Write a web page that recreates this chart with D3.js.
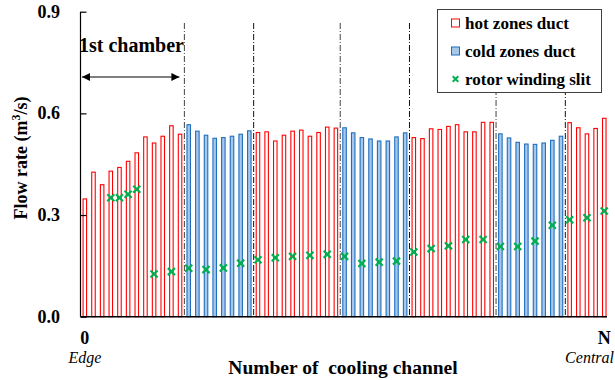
<!DOCTYPE html>
<html>
<head>
<meta charset="utf-8">
<script src="https://cdn.jsdelivr.net/npm/d3@7"></script>
<style>
  html, body { margin: 0; padding: 0; background: #fff; }
  svg { display: block; font-family: "Liberation Serif", "Times New Roman", serif; }
</style>
</head>
<body>
<svg id="chart" width="615" height="380"></svg>
<script>
// Flow rate per cooling duct, grouped by zone (edge -> centre)
const hotZone1  = [0.349, 0.428, 0.391, 0.431, 0.442, 0.460, 0.485, 0.532, 0.514, 0.534, 0.565, 0.540];
const coldZone1 = [0.568, 0.549, 0.537, 0.528, 0.530, 0.534, 0.540, 0.550];
const hotZone2  = [0.545, 0.547, 0.520, 0.537, 0.549, 0.552, 0.534, 0.545, 0.561, 0.558];
const coldZone2 = [0.559, 0.544, 0.530, 0.526, 0.520, 0.520, 0.532, 0.544];
const hotZone3  = [0.530, 0.527, 0.556, 0.554, 0.563, 0.568, 0.547, 0.547, 0.575, 0.575];
const coldZone3 = [0.541, 0.529, 0.516, 0.511, 0.510, 0.514, 0.522, 0.534];
const hotZone4  = [0.574, 0.559, 0.541, 0.557, 0.587];

// Rotor winding slit flow, at the channels where it was sampled
const slitChannels = [3, 4, 5, 6, 8, 10, 12, 14, 16, 18, 20, 22, 24, 26, 28, 30, 32, 34, 36, 38,
                      40, 42, 44, 46, 48, 50, 52, 54, 56, 58, 60];
const slitFlow = [0.351, 0.351, 0.361, 0.376, 0.126, 0.133, 0.143, 0.139, 0.144, 0.158, 0.168,
                  0.174, 0.178, 0.181, 0.184, 0.178, 0.157, 0.161, 0.164, 0.191, 0.201, 0.209,
                  0.228, 0.228, 0.207, 0.207, 0.223, 0.270, 0.286, 0.292, 0.312];

const yTicks = [0.0, 0.3, 0.6, 0.9];
const xEndLabels = ["0", "N"];
const xEndNotes = ["Edge", "Central"];
const legendLabels = ["hot zones duct", "cold zones duct", "rotor winding slit"];

const zones = [
  { type: "hot", values: hotZone1 },
  { type: "cold", values: coldZone1 },
  { type: "hot", values: hotZone2 },
  { type: "cold", values: coldZone2 },
  { type: "hot", values: hotZone3 },
  { type: "cold", values: coldZone3 },
  { type: "hot", values: hotZone4 }
];

// Flatten into one record per channel
const channels = [];
const zoneStarts = [];
zones.forEach(z => {
  zoneStarts.push(channels.length);
  z.values.forEach(v => channels.push({ index: channels.length, type: z.type, value: v }));
});

const colors = {
  hotStroke: "#ff0000", hotFill: "#ffffff",
  coldStroke: "#1f6fc0", coldFill: "#a8c8ea",
  slit: "#00b050", axis: "#000"
};

const svg = d3.select("#chart");
const plotLeft = 80.5, plotRight = 608.6, plotTop = 11.7, plotBottom = 316.7;

const x = d3.scaleBand()
  .domain(channels.map(d => d.index))
  .range([plotLeft, plotRight])
  .paddingInner(0.48)
  .paddingOuter(0.24);

const y = d3.scaleLinear().domain([0, 0.9]).range([plotBottom, plotTop]);

// Zone dividers between neighbouring channels
const dividerX = zoneStarts.slice(1).map(i => x(i) - x.step() * x.paddingInner() / 2);
svg.append("g").selectAll("line")
  .data(dividerX)
  .join("line")
  .attr("x1", d => d).attr("x2", d => d)
  .attr("y1", 23).attr("y2", plotBottom)
  .attr("stroke", (d, i) => i % 2 === 1 ? "#111" : "#444")
  .attr("stroke-width", 1)
  .attr("stroke-dasharray", "6,2,1,2");

// Duct bars
svg.append("g").selectAll("rect")
  .data(channels)
  .join("rect")
  .attr("x", d => x(d.index) + 0.5)
  .attr("y", d => y(d.value) + 0.5)
  .attr("width", x.bandwidth() - 1)
  .attr("height", d => plotBottom - y(d.value) - 0.5)
  .attr("fill", d => d.type === "hot" ? colors.hotFill : colors.coldFill)
  .attr("stroke", d => d.type === "hot" ? colors.hotStroke : colors.coldStroke)
  .attr("stroke-width", 1.1);

// Rotor slit markers (x shapes)
const cross = d3.symbol().type(d3.symbolX).size(34);
svg.append("g").selectAll("path")
  .data(slitChannels.map((c, i) => ({ c, v: slitFlow[i] })))
  .join("path")
  .attr("d", cross)
  .attr("transform", d => `translate(${x(d.c) + x.bandwidth() / 2},${y(d.v)})`)
  .attr("fill", "none")
  .attr("stroke", colors.slit)
  .attr("stroke-width", 2.2);

// Y axis with inward ticks
const yAxis = d3.axisRight(y).tickValues(yTicks).tickSize(6).tickFormat("");
const yg = svg.append("g").attr("transform", `translate(${plotLeft},0)`).call(yAxis);
yg.select(".domain").attr("d", `M0,${plotTop}V${plotBottom}`).attr("stroke", colors.axis).attr("stroke-width", 1.2);
yg.selectAll(".tick line").attr("stroke", colors.axis).attr("stroke-width", 1.2);

svg.append("g").selectAll("text")
  .data(yTicks)
  .join("text")
  .attr("x", 60)
  .attr("y", d => y(d) + 6)
  .attr("text-anchor", "end")
  .attr("font-size", 18)
  .attr("font-weight", "bold")
  .text(d3.format(".1f"));

// X axis baseline
svg.append("line")
  .attr("x1", plotLeft).attr("x2", 607)
  .attr("y1", plotBottom).attr("y2", plotBottom)
  .attr("stroke", colors.axis).attr("stroke-width", 1.4);

const endChannels = [0, channels.length - 1];
svg.append("g").selectAll("text")
  .data(endChannels)
  .join("text")
  .attr("x", d => x(d) + x.bandwidth() / 2)
  .attr("y", 344)
  .attr("text-anchor", "middle")
  .attr("font-size", 18)
  .attr("font-weight", "bold")
  .text((d, i) => xEndLabels[i]);

svg.append("g").selectAll("text")
  .data(endChannels)
  .join("text")
  .attr("x", (d, i) => i === 0 ? x(d) + x.bandwidth() / 2 : 614)
  .attr("y", 363)
  .attr("text-anchor", (d, i) => i === 0 ? "middle" : "end")
  .attr("font-size", 16)
  .attr("font-style", "italic")
  .text((d, i) => xEndNotes[i]);

// Axis titles
svg.append("text")
  .attr("x", 343).attr("y", 374)
  .attr("text-anchor", "middle")
  .attr("font-size", 19.5)
  .attr("font-weight", "bold")
  .style("white-space", "pre")
  .text("Number of  cooling channel");

const yTitle = svg.append("text")
  .attr("transform", `translate(27,158) rotate(-90)`)
  .attr("text-anchor", "middle")
  .attr("font-size", 18)
  .attr("font-weight", "bold");
yTitle.append("tspan").text("Flow rate (m");
yTitle.append("tspan").attr("font-size", 12).attr("dy", -7).text("3");
yTitle.append("tspan").attr("dy", 7).text("/s)");

// First chamber annotation
svg.append("text")
  .attr("x", 79).attr("y", 52)
  .attr("font-size", 20)
  .attr("font-weight", "bold")
  .text("1st chamber");

const defs = svg.append("defs");
defs.append("marker")
  .attr("id", "arrowHead")
  .attr("viewBox", "0 0 10 10")
  .attr("refX", 10).attr("refY", 5)
  .attr("markerWidth", 12).attr("markerHeight", 8)
  .attr("markerUnits", "userSpaceOnUse")
  .attr("orient", "auto-start-reverse")
  .append("path")
  .attr("d", "M0,0L10,5L0,10Z")
  .attr("fill", "#000");

svg.append("line")
  .attr("x1", 82).attr("x2", dividerX[0] - 5)
  .attr("y1", 77).attr("y2", 77)
  .attr("stroke", "#555")
  .attr("stroke-width", 1.3)
  .attr("marker-start", "url(#arrowHead)")
  .attr("marker-end", "url(#arrowHead)");

// Legend
const lg = svg.append("g");
lg.append("rect")
  .attr("x", 437.5).attr("y", 9.5)
  .attr("width", 164).attr("height", 83)
  .attr("fill", "#fff")
  .attr("stroke", "#404040")
  .attr("stroke-width", 1);

const legendY = [23, 51, 79];
lg.append("rect")
  .attr("x", 451.5).attr("y", legendY[0] - 4)
  .attr("width", 8).attr("height", 8)
  .attr("fill", colors.hotFill).attr("stroke", colors.hotStroke);
lg.append("rect")
  .attr("x", 451.5).attr("y", legendY[1] - 4)
  .attr("width", 8).attr("height", 8)
  .attr("fill", colors.coldFill).attr("stroke", colors.coldStroke);
lg.append("path")
  .attr("d", d3.symbol().type(d3.symbolX).size(22)())
  .attr("transform", `translate(455.5,${legendY[2]})`)
  .attr("fill", "none")
  .attr("stroke", colors.slit)
  .attr("stroke-width", 2);

lg.selectAll("text.leg")
  .data(legendLabels)
  .join("text")
  .attr("class", "leg")
  .attr("x", 465)
  .attr("y", (d, i) => legendY[i] + 5.5)
  .attr("font-size", 17)
  .attr("font-weight", "bold")
  .text(d => d);
</script>
</body>
</html>
